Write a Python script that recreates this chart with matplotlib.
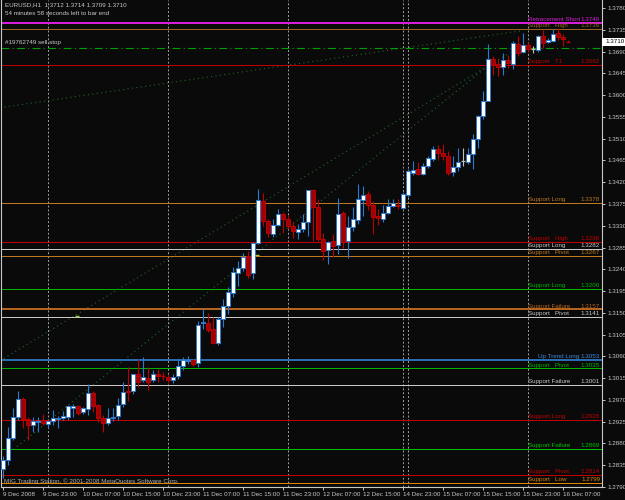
import matplotlib
matplotlib.use("Agg")
import matplotlib.pyplot as plt
from matplotlib.patches import Rectangle
from matplotlib.transforms import blended_transform_factory

# EURUSD H1 bars, 9 Dec 2008 15:00 .. 16 Dec 2008 08:00
opens = [1.2827, 1.2846, 1.2892, 1.2934, 1.2971, 1.2930, 1.2918, 1.2924, 1.2928, 1.2921,
         1.2926, 1.2930, 1.2933, 1.2934, 1.2954, 1.2957, 1.2945, 1.2952, 1.2985, 1.2960,
         1.2932, 1.2923, 1.2933, 1.2936, 1.2961, 1.2989, 1.2989, 1.3024, 1.3011, 1.3016,
         1.3011, 1.3023, 1.3021, 1.3018, 1.3011, 1.3019, 1.3040, 1.3050, 1.3052, 1.3047,
         1.3129, 1.3129, 1.3117, 1.3088, 1.3138, 1.3165, 1.3191, 1.3232, 1.3242, 1.3267,
         1.3232, 1.3294, 1.3381, 1.3339, 1.3314, 1.3331, 1.3355, 1.3345, 1.3329, 1.3318,
         1.3323, 1.3337, 1.3404, 1.3368, 1.3302, 1.3280, 1.3299, 1.3291, 1.3356, 1.3298,
         1.3327, 1.3342, 1.3383, 1.3395, 1.3373, 1.3350, 1.3345, 1.3357, 1.3370, 1.3374,
         1.3366, 1.3393, 1.3440, 1.3447, 1.3438, 1.3453, 1.3469, 1.3489, 1.3481, 1.3474,
         1.3441, 1.3452, 1.3463, 1.3462, 1.3478, 1.3510, 1.3556, 1.3589, 1.3675, 1.3664,
         1.3659, 1.3673, 1.3665, 1.3706, 1.3690, 1.3704, 1.3695, 1.3694, 1.3723, 1.3710,
         1.3713, 1.3729, 1.3720, 1.3712]
highs = [1.2855, 1.2915, 1.2954, 1.2988, 1.2976, 1.2935, 1.2935, 1.2935, 1.2940, 1.2928,
         1.2950, 1.2936, 1.2947, 1.2959, 1.2962, 1.2959, 1.2956, 1.3002, 1.2988, 1.2962,
         1.2938, 1.2954, 1.2954, 1.2973, 1.3008, 1.3038, 1.3023, 1.3054, 1.3059, 1.3038,
         1.3031, 1.3034, 1.3028, 1.3024, 1.3024, 1.3055, 1.3059, 1.3061, 1.3055, 1.3134,
         1.3158, 1.3150, 1.3141, 1.3141, 1.3179, 1.3203, 1.3245, 1.3258, 1.3274, 1.3278,
         1.3296, 1.3407, 1.3397, 1.3345, 1.3344, 1.3364, 1.3359, 1.3352, 1.3337, 1.3333,
         1.3354, 1.3403, 1.3407, 1.3385, 1.3315, 1.3299, 1.3313, 1.3388, 1.3361, 1.3350,
         1.3368, 1.3417, 1.3412, 1.3401, 1.3381, 1.3364, 1.3374, 1.3386, 1.3386, 1.3386,
         1.3399, 1.3447, 1.3464, 1.3462, 1.3459, 1.3474, 1.3496, 1.3498, 1.3500, 1.3484,
         1.3475, 1.3491, 1.3491, 1.3491, 1.3519, 1.3560, 1.3608, 1.3706, 1.3681, 1.3675,
         1.3687, 1.3684, 1.3713, 1.3723, 1.3728, 1.3711, 1.3702, 1.3725, 1.3734, 1.3718,
         1.3736, 1.3738, 1.3727, 1.3714]
lows = [1.2808, 1.2835, 1.2887, 1.2928, 1.2911, 1.2887, 1.2904, 1.2904, 1.2918, 1.2911,
        1.2918, 1.2911, 1.2928, 1.2928, 1.2935, 1.2938, 1.2940, 1.2938, 1.2945, 1.2925,
        1.2904, 1.2919, 1.2926, 1.2928, 1.2956, 1.2967, 1.2983, 1.2997, 1.3008, 1.2990,
        1.3007, 1.3007, 1.3011, 1.3004, 1.3004, 1.3014, 1.3031, 1.3045, 1.3040, 1.3038,
        1.3117, 1.3110, 1.3086, 1.3083, 1.3120, 1.3148, 1.3182, 1.3205, 1.3237, 1.3223,
        1.3220, 1.3292, 1.3329, 1.3306, 1.3306, 1.3329, 1.3316, 1.3324, 1.3304, 1.3302,
        1.3317, 1.3309, 1.3299, 1.3299, 1.3260, 1.3251, 1.3265, 1.3272, 1.3285, 1.3263,
        1.3319, 1.3333, 1.3350, 1.3363, 1.3313, 1.3332, 1.3337, 1.3354, 1.3368, 1.3364,
        1.3364, 1.3390, 1.3436, 1.3436, 1.3436, 1.3450, 1.3464, 1.3467, 1.3467, 1.3436,
        1.3432, 1.3443, 1.3453, 1.3457, 1.3448, 1.3491, 1.3550, 1.3587, 1.3642, 1.3640,
        1.3642, 1.3656, 1.3655, 1.3680, 1.3687, 1.3690, 1.3687, 1.3690, 1.3697, 1.3708,
        1.3711, 1.3714, 1.3702, 1.3709]
closes = [1.2846, 1.2892, 1.2935, 1.2971, 1.2930, 1.2919, 1.2926, 1.2927, 1.2923, 1.2926,
          1.2932, 1.2933, 1.2936, 1.2957, 1.2958, 1.2943, 1.2954, 1.2985, 1.2958, 1.2932,
          1.2923, 1.2933, 1.2935, 1.2960, 1.2987, 1.2986, 1.3023, 1.3008, 1.3018, 1.3008,
          1.3024, 1.3019, 1.3019, 1.3011, 1.3018, 1.3041, 1.3052, 1.3053, 1.3045, 1.3125,
          1.3132, 1.3115, 1.3088, 1.3138, 1.3165, 1.3193, 1.3234, 1.3242, 1.3265, 1.3228,
          1.3294, 1.3383, 1.3340, 1.3315, 1.3332, 1.3355, 1.3345, 1.3329, 1.3319, 1.3323,
          1.3338, 1.3403, 1.3368, 1.3302, 1.3278, 1.3297, 1.3289, 1.3355, 1.3296, 1.3327,
          1.3344, 1.3385, 1.3393, 1.3373, 1.3349, 1.3346, 1.3357, 1.3370, 1.3378, 1.3370,
          1.3395, 1.3443, 1.3445, 1.3438, 1.3453, 1.3471, 1.3488, 1.3480, 1.3474, 1.3440,
          1.3451, 1.3462, 1.3463, 1.3478, 1.3510, 1.3556, 1.3589, 1.3675, 1.3663, 1.3659,
          1.3673, 1.3666, 1.3708, 1.3688, 1.3703, 1.3695, 1.3695, 1.3723, 1.3708, 1.3714,
          1.3727, 1.3720, 1.3716, 1.3710]

time_tick_bars = [0, 8, 16, 24, 32, 40, 48, 56, 64, 72, 80, 88, 96, 104, 112]
time_tick_labels = ["9 Dec 2008", "9 Dec 23:00", "10 Dec 07:00", "10 Dec 15:00", "10 Dec 23:00",
                    "11 Dec 07:00", "11 Dec 15:00", "11 Dec 23:00", "12 Dec 07:00", "12 Dec 15:00",
                    "14 Dec 23:00", "15 Dec 07:00", "15 Dec 15:00", "15 Dec 23:00", "16 Dec 07:00"]
day_sep_bars = [9, 33, 57, 80, 81, 105]
price_ticks = [1.3780, 1.3735, 1.3690, 1.3645, 1.3600, 1.3555, 1.3510, 1.3465, 1.3420, 1.3375,
               1.3330, 1.3285, 1.3240, 1.3195, 1.3150, 1.3105, 1.3060, 1.3015, 1.2970, 1.2925,
               1.2880, 1.2835, 1.2790]

level_names = ["Retracement Short", "Support   High", "Support   T1", "Support Long",
               "Support   High", "Support Long", "Support   Pivot", "Support Long",
               "Support Failure", "Support   Pivot", "Up Trend Long", "Support   Pivot",
               "Support Failure", "Support Long", "Support Failure", "Support   Pivot",
               "Support   Low"]
level_prices = [1.3749, 1.3736, 1.3662, 1.3378, 1.3296, 1.3282, 1.3267, 1.3200, 1.3157,
                1.3141, 1.3053, 1.3035, 1.3001, 1.2928, 1.2869, 1.2814, 1.2799]
level_colors = ["#d81ed8", "#9a6420", "#c00000", "#c07820", "#c00000", "#c8c8c8", "#c07820",
                "#00b400", "#b4641e", "#c8c8c8", "#2a6cb0", "#00b400", "#c8c8c8", "#c00000",
                "#00c000", "#c00000", "#e08200"]
level_widths = [2, 1, 1, 1, 1, 1, 1, 1, 2, 1, 2, 1, 1, 1, 1, 1, 1]

sell_stop_price = 1.3697
sell_stop_label = "#19762749 sell stop"

# dotted trend lines: (bar0, price0, bar1, price1)
trend_lines = [(-0.6, 1.3574, 103.4, 1.3733),
               (-0.6, 1.3051, 101.4, 1.3688),
               (0.7, 1.2856, 97.4, 1.3664)]

arrow_bars = [14.8, 50.7]
arrow_prices = [1.3144, 1.3269]

BG = "#0a0a0a"
FG = "#c8c8c8"
BULL = "#2a7ad0"
BEAR = "#c00000"
FONT = ["Liberation Sans", "DejaVu Sans"]
FS = 4.5

fig = plt.figure(figsize=(6.25, 5), dpi=100, facecolor=BG)
ax = fig.add_axes([1 / 625, 13 / 500, 601 / 625, 487 / 500], facecolor=BG)
ax.set_xlim(-0.4, 119.8)
ax.set_ylim(1.27936, 1.37968)

# day separators
for b in day_sep_bars:
    ax.axvline(b - 0.06, color="#a0a0a0", lw=0.7, ls=(0, (2, 2)), zorder=1)

# trend lines
for x0, y0, x1, y1 in trend_lines:
    ax.plot([x0, x1], [y0, y1], color="#1f6a2a", lw=0.8, ls=(0, (1, 3)), zorder=1)

# horizontal levels
for name, p, c, w in zip(level_names, level_prices, level_colors, level_widths):
    ax.axhline(p, color=c, lw=0.72 * w, zorder=2)
    tc = "#3c8ce0" if name == "Up Trend Long" else c
    xs = 107.0 if name == "Up Trend Long" else 104.9
    ax.text(xs, p + 0.0002, name, color=tc, fontsize=FS, family=FONT, ha="left", va="bottom", zorder=6)
    ax.text(119.4, p + 0.0002, f"{p:.4f}", color=tc, fontsize=FS, family=FONT, ha="right", va="bottom", zorder=6)

ax.axhline(sell_stop_price, color="#00a000", lw=0.8, ls=(0, (7, 3, 1, 3)), zorder=2)
ax.text(0.4, sell_stop_price + 0.0006, sell_stop_label, color=FG, fontsize=FS, family=FONT,
        ha="left", va="bottom", zorder=6)

# candles
for i, (o, h, l, c) in enumerate(zip(opens, highs, lows, closes)):
    if c > o:
        col, face = BULL, "white"
    elif c < o:
        col, face = BEAR, "#a00000"
    else:
        col, face = "#c0c0c0", "#c0c0c0"
    ax.vlines(i, l, h, color=col, lw=0.8, zorder=3)
    lo, hi = min(o, c), max(o, c)
    if hi - lo < 0.0002:
        ax.hlines((o + c) / 2, i - 0.4, i + 0.4, color=col if c != o else face, lw=0.9, zorder=4)
    else:
        ax.add_patch(Rectangle((i - 0.32, lo), 0.64, hi - lo, facecolor=face, edgecolor=col,
                               lw=0.7, zorder=4))

ax.scatter(arrow_bars, arrow_prices, marker="_", s=10, color="#9ad040", lw=1, zorder=5)

# axes styling
ax.spines["top"].set_visible(False)
for s in ["left", "right", "bottom"]:
    ax.spines[s].set_color(FG)
    ax.spines[s].set_linewidth(0.8)

ax.yaxis.tick_right()
ax.set_yticks(price_ticks)
ax.set_yticklabels([f"{p:.4f}" for p in price_ticks], family=FONT)
ax.tick_params(axis="y", colors=FG, labelsize=FS, length=2.5, width=0.7, pad=1.2)

ax.set_xticks(time_tick_bars)
ax.set_xticklabels(time_tick_labels, family=FONT)
for lbl in ax.get_xticklabels():
    lbl.set_ha("left")
ax.tick_params(axis="x", colors=FG, labelsize=FS, length=2.5, width=0.7, pad=1.2)

# current price marker
last = closes[-1]
tr = blended_transform_factory(ax.transAxes, ax.transData)
ax.add_patch(Rectangle((1.0, last - 0.00085), 23 / 601, 0.0017, transform=tr, clip_on=False,
                       facecolor="white", edgecolor="none", zorder=7))
ax.text(1.006, last, f"{last:.4f}", transform=tr, color="black", fontsize=FS, family=FONT,
        ha="left", va="center", zorder=8, clip_on=False)

# header texts
ax.text(0.006, 0.995, f"EURUSD,H1  {opens[-1]:.4f} {highs[-1]:.4f} {lows[-1]:.4f} {closes[-1]:.4f}",
        transform=ax.transAxes, color=FG, fontsize=FS, family=FONT, ha="left", va="top")
ax.text(0.006, 0.978, "54 minutes 58 seconds left to bar end", transform=ax.transAxes,
        color=FG, fontsize=FS, family=FONT, ha="left", va="top")
ax.text(0.005, 0.006, "MIG Trading Station, \u00a9 2001-2008 MetaQuotes Software Corp.",
        transform=ax.transAxes, color="#b0b0b0", fontsize=FS, family=FONT, ha="left", va="bottom")

fig.savefig("out.png", dpi=100, facecolor=BG)
